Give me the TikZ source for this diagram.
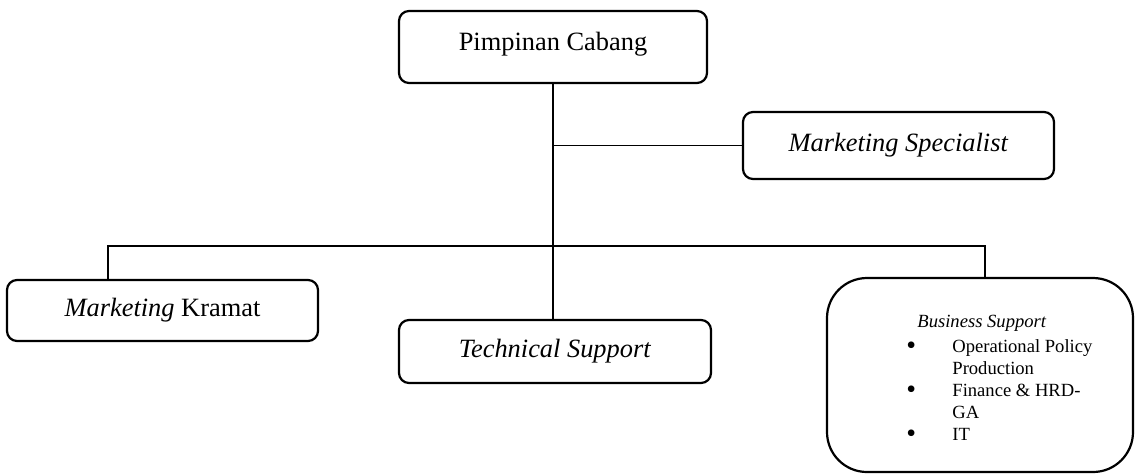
\documentclass[tikz,border=0pt]{standalone}
\usepackage{fontspec}
\setmainfont{Liberation Serif}

\begin{document}
\begin{tikzpicture}[x=0.5pt, y=-0.5pt]
	\tikzset{unit box/.style={draw, line width=1.1pt, rounded corners=5pt, inner sep=0pt,
			font=\fontsize{13.2}{15}\selectfont, text height=9pt, text depth=3pt}}
	\tikzset{org lines/.style={line width=0.6pt, black}}
	\newcommand{\bigdot}{\raisebox{-1.3pt}{\scalebox{1.5}{\textbullet}}}
	\useasboundingbox (0, 0) rectangle (1135, 473);

	\node[unit box, minimum width=154pt, minimum height=36pt, text depth=6pt] (pimpinan) at (553, 47) {Pimpinan Cabang};
	\node[unit box, minimum width=155.5pt, minimum height=33.5pt] (specialist) at (898.5, 145.5) {\textit{Marketing Specialist}};
	\node[unit box, minimum width=155.5pt, minimum height=30.5pt] (kramat) at (162.5, 310.5) {\textit{Marketing} Kramat};
	\node[unit box, minimum width=156pt, minimum height=31.5pt] (technical) at (555, 351.5) {\textit{Technical Support}};
	\node[unit box, rounded corners=20pt, minimum width=153pt, minimum height=97pt] (business) at (980, 375) {};
	\node[anchor=base west, inner sep=0pt, font=\fontsize{9.3}{11}\selectfont] (bslist) at (906, 327) {%
		\begin{tabular}[t]{@{}p{23pt}@{}l@{}}
			\multicolumn{2}{@{\hspace{5.5pt}}l@{}}{\textit{Business Support}}\\[1.5pt]
			\bigdot & Operational Policy\\
			        & Production\\
			\bigdot & Finance \& HRD-\\
			        & GA\\
			\bigdot & IT
		\end{tabular}};

	\draw[org lines] (pimpinan.south) -- (pimpinan.south |- technical.north);
	\draw[org lines] (pimpinan.south |- specialist.west) -- (specialist.west);
	\coordinate (busleft) at (108, 246);
	\coordinate (busright) at (985, 246);
	\draw[org lines] (busleft |- kramat.north) |- (busright) -- (busright |- business.north);
\end{tikzpicture}
\end{document}
